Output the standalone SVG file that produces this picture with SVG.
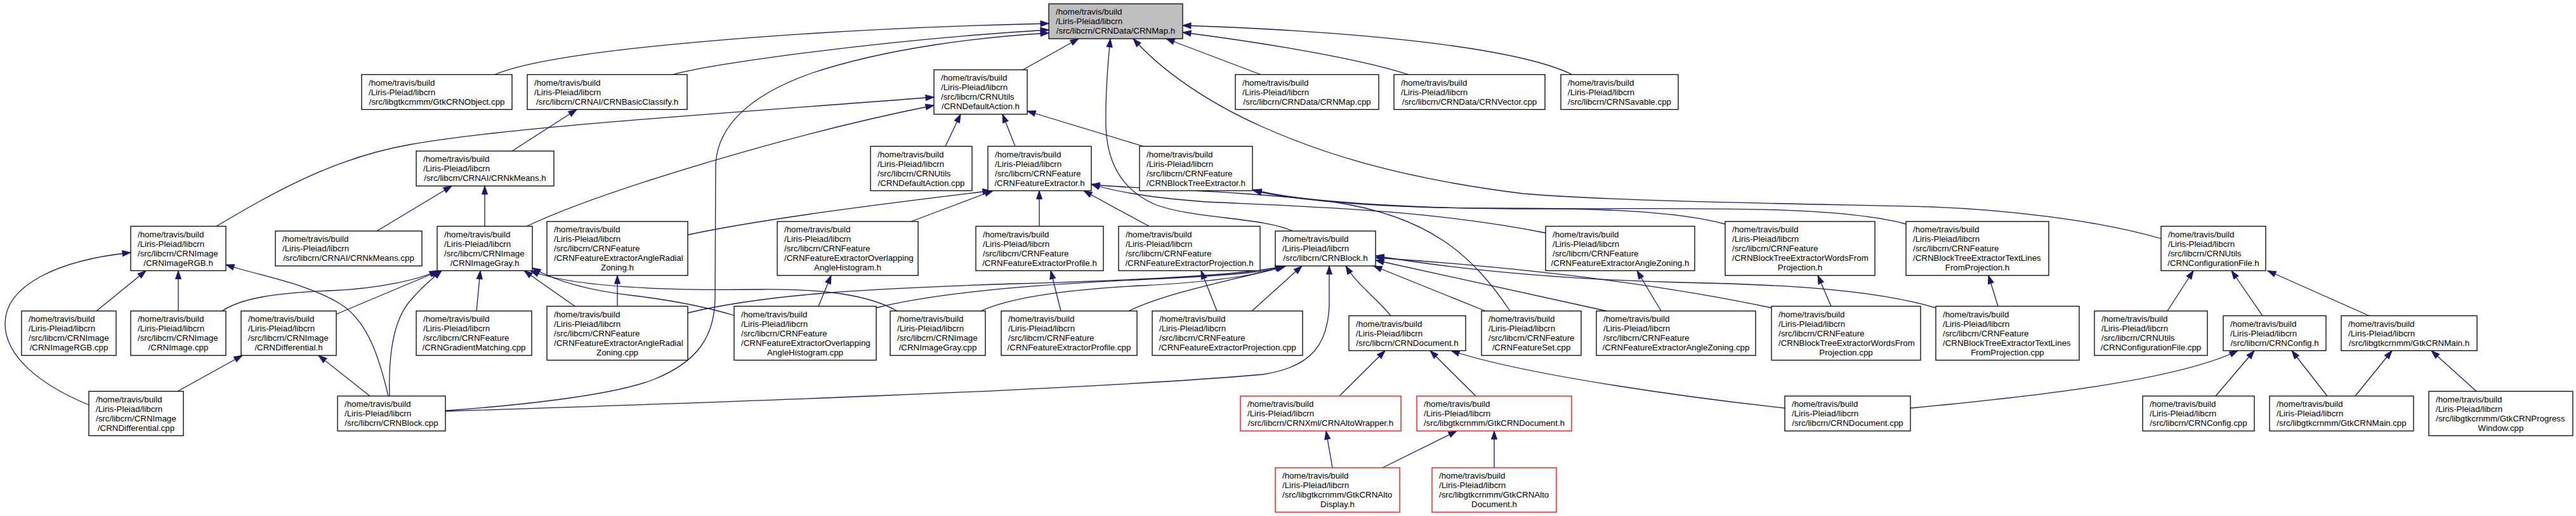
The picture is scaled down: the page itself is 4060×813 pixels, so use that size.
<svg xmlns="http://www.w3.org/2000/svg" width="4060" height="813" viewBox="0 0 4060 813">
<style>
.n rect{fill:#fff;stroke:#000;stroke-width:1.3}
.n.root rect{fill:#bfbfbf}
.n.red rect{stroke:#ff0000}
text{font-family:"Liberation Sans",Arial,Helvetica,sans-serif;font-size:13.33px;fill:#000}
.c{text-anchor:middle}
#edges path{fill:none;stroke:#191970;stroke-width:1.3;marker-end:url(#a)}
</style>
<defs>
<marker id="a" markerUnits="userSpaceOnUse" markerWidth="15" markerHeight="11" refX="13" refY="5" orient="auto" overflow="visible">
<path d="M0,0.5 L13,5 L0,9.5 z" fill="#191970" stroke="#191970" stroke-width="1"/>
</marker>
</defs>
<rect width="4060" height="813" fill="#fff"/>
<g id="edges">
<path d="M780,117.5 C880,75 1300,45 1653,37"/>
<path d="M1061,117.5 C1120,100 1400,62 1653,47"/>
<path d="M1612,110 L1700,61"/>
<path d="M2037,364 C1990,342 1880,345 1820,322 C1770,300 1745,260 1743,200 C1742,150 1746,100 1750,61"/>
<path d="M1987,117.5 L1838,61"/>
<path d="M2220,117.5 C2130,88 1950,62 1864,51"/>
<path d="M2478,117.5 C2380,70 2100,48 1864,40"/>
<path d="M3406,376 C3300,345 3150,330 3045,326 C2900,322 2550,318 2400,305 C2200,280 2080,240 1990,200 C1900,160 1830,110 1786,61"/>
<path d="M702,647 C800,640 960,625 1030,598 C1100,570 1126,530 1127,470 L1128,260 C1130,200 1180,150 1280,115 C1400,75 1550,58 1653,52"/>
<path d="M807,238 L909,172.5"/>
<path d="M341,356.5 C420,310 520,250 645,228 C800,200 1150,178 1472,153"/>
<path d="M830,356.5 C950,300 1250,210 1472,166"/>
<path d="M1490,230.5 L1514,180"/>
<path d="M1600,230.5 L1580,180"/>
<path d="M1802,230.5 L1619,175"/>
<path d="M594,364 L712,293"/>
<path d="M764,356.5 L764,293"/>
<path d="M1084,370 C1200,345 1400,320 1562,300.5"/>
<path d="M1436,349 L1565,300.5"/>
<path d="M1638,356.5 L1638,300.5"/>
<path d="M1811,356.5 L1708,300.5"/>
<path d="M2436,367 C2250,330 2050,325 1900,318 C1820,312 1760,303 1720,290"/>
<path d="M2380,490 C2320,400 2250,340 2100,318 C1950,300 1800,298 1720,291"/>
<path d="M2719,353 C2640,332 2520,328 2350,328 C2200,328 2050,318 1975,300"/>
<path d="M3004,353 C2900,325 2700,328 2450,329 C2250,330 2060,320 1975,299"/>
<path d="M152,490 L230,426.5"/>
<path d="M281,490 L281,426.5"/>
<path d="M140,638 C60,605 8,560 8,510 C8,450 90,410 206,398"/>
<path d="M612,624 C598,565 580,505 535,478 C480,445 410,435 356,417"/>
<path d="M350,490 C380,470 430,462 520,458 C600,455 660,440 690,426.5"/>
<path d="M530,495 L693,426.5"/>
<path d="M614,624 C612,560 620,500 650,470 C665,452 680,440 696,426.5"/>
<path d="M751,490 L757,426.5"/>
<path d="M906,482.5 L826,426.5"/>
<path d="M1414,490 C1370,465 1300,455 1200,456 C1050,458 900,452 836,426.5"/>
<path d="M1157,497 C1100,480 1050,472 1000,466 C920,457 870,440 839,422"/>
<path d="M973,482.5 L973,434"/>
<path d="M1290,482.5 L1310,434"/>
<path d="M1672,490 L1656,426.5"/>
<path d="M1918,490 L1893,426.5"/>
<path d="M2618,490 L2580,426.5"/>
<path d="M2886,482.5 L2865,434"/>
<path d="M3149,482.5 L3134,434"/>
<path d="M280,616.5 L382,560"/>
<path d="M583,624 L502,560"/>
<path d="M702,648 C1100,635 1700,615 1990,590 C2070,578 2093,540 2095,480 L2095,419"/>
<path d="M2192,497.5 C2170,470 2140,450 2121,419"/>
<path d="M2341,490 L2165,419"/>
<path d="M2532,490 L2168,410"/>
<path d="M2792,485 C2650,455 2450,425 2168,406"/>
<path d="M3051,485 C2950,455 2800,448 2650,445 C2450,440 2300,425 2168,403"/>
<path d="M1973,490 L2052,419"/>
<path d="M1779,490 C1840,460 1950,440 2027,419"/>
<path d="M1546,490 C1600,465 1700,455 1800,450 C1900,445 1980,435 2025,419"/>
<path d="M1381,485 C1500,455 1700,445 1850,438 C1950,433 2000,428 2024,419"/>
<path d="M1084,493 C1200,465 1350,455 1600,447 C1850,440 1980,430 2023,419"/>
<path d="M2111,624 L2183,552.5"/>
<path d="M2326,624 L2254,552.5"/>
<path d="M2813,643 C2650,625 2400,590 2287,552.5"/>
<path d="M2100,737 L2090,679"/>
<path d="M2179,737 L2296,679"/>
<path d="M2355,737 L2355,679"/>
<path d="M3416,490 L3457,426.5"/>
<path d="M3566,497.5 L3517,426.5"/>
<path d="M3734,497.5 L3574,426.5"/>
<path d="M3492,624 L3553,552.5"/>
<path d="M3668,624 L3612,552.5"/>
<path d="M3011,643 C3200,625 3430,600 3527,552.5"/>
<path d="M3712,624 L3770,552.5"/>
<path d="M3903,616.5 L3832,552.5"/>
</g>

<g id="n_CRNMap_h" class="n root"><rect x="1653" y="6" width="211" height="55"/>
<text x="1664" y="23">/home/travis/build</text><text x="1664" y="38">/Liris-Pleiad/libcrn</text><text class="c" x="1758.5" y="53">/src/libcrn/CRNData/CRNMap.h</text></g>

<g id="n_GtkCRNObject_cpp" class="n"><rect x="570" y="117.5" width="237" height="55"/>
<text x="581" y="134.5">/home/travis/build</text><text x="581" y="149.5">/Liris-Pleiad/libcrn</text><text class="c" x="688.5" y="164.5">/src/libgtkcrnmm/GtkCRNObject.cpp</text></g>
<g id="n_CRNBasicClassify_h" class="n"><rect x="831" y="117.5" width="252" height="55"/>
<text x="842" y="134.5">/home/travis/build</text><text x="842" y="149.5">/Liris-Pleiad/libcrn</text><text class="c" x="957" y="164.5">/src/libcrn/CRNAI/CRNBasicClassify.h</text></g>
<g id="n_CRNDefaultAction_h" class="n"><rect x="1472" y="110" width="147" height="70"/>
<text x="1483" y="127">/home/travis/build</text><text x="1483" y="142">/Liris-Pleiad/libcrn</text><text x="1483" y="157">/src/libcrn/CRNUtils</text><text class="c" x="1545.5" y="172">/CRNDefaultAction.h</text></g>
<g id="n_CRNMap_cpp" class="n"><rect x="1947" y="117.5" width="226" height="55"/>
<text x="1958" y="134.5">/home/travis/build</text><text x="1958" y="149.5">/Liris-Pleiad/libcrn</text><text class="c" x="2060" y="164.5">/src/libcrn/CRNData/CRNMap.cpp</text></g>
<g id="n_CRNVector_cpp" class="n"><rect x="2197" y="117.5" width="238" height="55"/>
<text x="2208" y="134.5">/home/travis/build</text><text x="2208" y="149.5">/Liris-Pleiad/libcrn</text><text class="c" x="2316" y="164.5">/src/libcrn/CRNData/CRNVector.cpp</text></g>
<g id="n_CRNSavable_cpp" class="n"><rect x="2460" y="117.5" width="185" height="55"/>
<text x="2471" y="134.5">/home/travis/build</text><text x="2471" y="149.5">/Liris-Pleiad/libcrn</text><text class="c" x="2552.5" y="164.5">/src/libcrn/CRNSavable.cpp</text></g>

<g id="n_CRNkMeans_h" class="n"><rect x="656" y="238" width="217" height="55"/>
<text x="667" y="255">/home/travis/build</text><text x="667" y="270">/Liris-Pleiad/libcrn</text><text class="c" x="764.5" y="285">/src/libcrn/CRNAI/CRNkMeans.h</text></g>
<g id="n_CRNDefaultAction_cpp" class="n"><rect x="1372" y="230.5" width="160" height="70"/>
<text x="1383" y="247.5">/home/travis/build</text><text x="1383" y="262.5">/Liris-Pleiad/libcrn</text><text x="1383" y="277.5">/src/libcrn/CRNUtils</text><text class="c" x="1452" y="292.5">/CRNDefaultAction.cpp</text></g>
<g id="n_CRNFeatureExtractor_h" class="n"><rect x="1557" y="230.5" width="163" height="70"/>
<text x="1568" y="247.5">/home/travis/build</text><text x="1568" y="262.5">/Liris-Pleiad/libcrn</text><text x="1568" y="277.5">/src/libcrn/CRNFeature</text><text class="c" x="1638.5" y="292.5">/CRNFeatureExtractor.h</text></g>
<g id="n_CRNBlockTreeExtractor_h" class="n"><rect x="1796" y="230.5" width="178" height="70"/>
<text x="1807" y="247.5">/home/travis/build</text><text x="1807" y="262.5">/Liris-Pleiad/libcrn</text><text x="1807" y="277.5">/src/libcrn/CRNFeature</text><text class="c" x="1885" y="292.5">/CRNBlockTreeExtractor.h</text></g>

<g id="n_CRNImageRGB_h" class="n"><rect x="206" y="356.5" width="150" height="70"/>
<text x="217" y="373.5">/home/travis/build</text><text x="217" y="388.5">/Liris-Pleiad/libcrn</text><text x="217" y="403.5">/src/libcrn/CRNImage</text><text class="c" x="281" y="418.5">/CRNImageRGB.h</text></g>
<g id="n_CRNkMeans_cpp" class="n"><rect x="434" y="364" width="231" height="55"/>
<text x="445" y="381">/home/travis/build</text><text x="445" y="396">/Liris-Pleiad/libcrn</text><text class="c" x="549.5" y="411">/src/libcrn/CRNAI/CRNkMeans.cpp</text></g>
<g id="n_CRNImageGray_h" class="n"><rect x="689" y="356.5" width="150" height="70"/>
<text x="700" y="373.5">/home/travis/build</text><text x="700" y="388.5">/Liris-Pleiad/libcrn</text><text x="700" y="403.5">/src/libcrn/CRNImage</text><text class="c" x="764" y="418.5">/CRNImageGray.h</text></g>
<g id="n_AngleRadialZoning_h" class="n"><rect x="862" y="349" width="222" height="85"/>
<text x="873" y="366">/home/travis/build</text><text x="873" y="381">/Liris-Pleiad/libcrn</text><text x="873" y="396">/src/libcrn/CRNFeature</text><text x="873" y="411">/CRNFeatureExtractorAngleRadial</text><text class="c" x="973" y="426">Zoning.h</text></g>
<g id="n_OverlappingAngleHistogram_h" class="n"><rect x="1225" y="349" width="222" height="85"/>
<text x="1236" y="366">/home/travis/build</text><text x="1236" y="381">/Liris-Pleiad/libcrn</text><text x="1236" y="396">/src/libcrn/CRNFeature</text><text x="1236" y="411">/CRNFeatureExtractorOverlapping</text><text class="c" x="1336" y="426">AngleHistogram.h</text></g>
<g id="n_Profile_h" class="n"><rect x="1538" y="356.5" width="201" height="70"/>
<text x="1549" y="373.5">/home/travis/build</text><text x="1549" y="388.5">/Liris-Pleiad/libcrn</text><text x="1549" y="403.5">/src/libcrn/CRNFeature</text><text class="c" x="1638.5" y="418.5">/CRNFeatureExtractorProfile.h</text></g>
<g id="n_Projection_h" class="n"><rect x="1763" y="356.5" width="223" height="70"/>
<text x="1774" y="373.5">/home/travis/build</text><text x="1774" y="388.5">/Liris-Pleiad/libcrn</text><text x="1774" y="403.5">/src/libcrn/CRNFeature</text><text class="c" x="1874.5" y="418.5">/CRNFeatureExtractorProjection.h</text></g>
<g id="n_CRNBlock_h" class="n"><rect x="2010" y="364" width="158" height="55"/>
<text x="2021" y="381">/home/travis/build</text><text x="2021" y="396">/Liris-Pleiad/libcrn</text><text class="c" x="2089" y="411">/src/libcrn/CRNBlock.h</text></g>
<g id="n_AngleZoning_h" class="n"><rect x="2436" y="356.5" width="235" height="70"/>
<text x="2447" y="373.5">/home/travis/build</text><text x="2447" y="388.5">/Liris-Pleiad/libcrn</text><text x="2447" y="403.5">/src/libcrn/CRNFeature</text><text class="c" x="2553.5" y="418.5">/CRNFeatureExtractorAngleZoning.h</text></g>
<g id="n_WordsFromProjection_h" class="n"><rect x="2719" y="349" width="236" height="85"/>
<text x="2730" y="366">/home/travis/build</text><text x="2730" y="381">/Liris-Pleiad/libcrn</text><text x="2730" y="396">/src/libcrn/CRNFeature</text><text x="2730" y="411">/CRNBlockTreeExtractorWordsFrom</text><text class="c" x="2837" y="426">Projection.h</text></g>
<g id="n_TextLinesFromProjection_h" class="n"><rect x="3004" y="349" width="225" height="85"/>
<text x="3015" y="366">/home/travis/build</text><text x="3015" y="381">/Liris-Pleiad/libcrn</text><text x="3015" y="396">/src/libcrn/CRNFeature</text><text x="3015" y="411">/CRNBlockTreeExtractorTextLines</text><text class="c" x="3116.5" y="426">FromProjection.h</text></g>
<g id="n_CRNConfigurationFile_h" class="n"><rect x="3406" y="356.5" width="165" height="70"/>
<text x="3417" y="373.5">/home/travis/build</text><text x="3417" y="388.5">/Liris-Pleiad/libcrn</text><text x="3417" y="403.5">/src/libcrn/CRNUtils</text><text class="c" x="3488.5" y="418.5">/CRNConfigurationFile.h</text></g>

<g id="n_CRNImageRGB_cpp" class="n"><rect x="34" y="490" width="149" height="70"/>
<text x="45" y="507">/home/travis/build</text><text x="45" y="522">/Liris-Pleiad/libcrn</text><text x="45" y="537">/src/libcrn/CRNImage</text><text class="c" x="108.5" y="552">/CRNImageRGB.cpp</text></g>
<g id="n_CRNImage_cpp" class="n"><rect x="206" y="490" width="150" height="70"/>
<text x="217" y="507">/home/travis/build</text><text x="217" y="522">/Liris-Pleiad/libcrn</text><text x="217" y="537">/src/libcrn/CRNImage</text><text class="c" x="281" y="552">/CRNImage.cpp</text></g>
<g id="n_CRNDifferential_h" class="n"><rect x="380" y="490" width="150" height="70"/>
<text x="391" y="507">/home/travis/build</text><text x="391" y="522">/Liris-Pleiad/libcrn</text><text x="391" y="537">/src/libcrn/CRNImage</text><text class="c" x="455" y="552">/CRNDifferential.h</text></g>
<g id="n_CRNGradientMatching_cpp" class="n"><rect x="656" y="490" width="182" height="70"/>
<text x="667" y="507">/home/travis/build</text><text x="667" y="522">/Liris-Pleiad/libcrn</text><text x="667" y="537">/src/libcrn/CRNFeature</text><text class="c" x="747" y="552">/CRNGradientMatching.cpp</text></g>
<g id="n_AngleRadialZoning_cpp" class="n"><rect x="862" y="482.5" width="222" height="85"/>
<text x="873" y="499.5">/home/travis/build</text><text x="873" y="514.5">/Liris-Pleiad/libcrn</text><text x="873" y="529.5">/src/libcrn/CRNFeature</text><text x="873" y="544.5">/CRNFeatureExtractorAngleRadial</text><text class="c" x="973" y="559.5">Zoning.cpp</text></g>
<g id="n_OverlappingAngleHistogram_cpp" class="n"><rect x="1157" y="482.5" width="224" height="85"/>
<text x="1168" y="499.5">/home/travis/build</text><text x="1168" y="514.5">/Liris-Pleiad/libcrn</text><text x="1168" y="529.5">/src/libcrn/CRNFeature</text><text x="1168" y="544.5">/CRNFeatureExtractorOverlapping</text><text class="c" x="1269" y="559.5">AngleHistogram.cpp</text></g>
<g id="n_CRNImageGray_cpp" class="n"><rect x="1403" y="490" width="150" height="70"/>
<text x="1414" y="507">/home/travis/build</text><text x="1414" y="522">/Liris-Pleiad/libcrn</text><text x="1414" y="537">/src/libcrn/CRNImage</text><text class="c" x="1478" y="552">/CRNImageGray.cpp</text></g>
<g id="n_Profile_cpp" class="n"><rect x="1578" y="490" width="214" height="70"/>
<text x="1589" y="507">/home/travis/build</text><text x="1589" y="522">/Liris-Pleiad/libcrn</text><text x="1589" y="537">/src/libcrn/CRNFeature</text><text class="c" x="1685" y="552">/CRNFeatureExtractorProfile.cpp</text></g>
<g id="n_Projection_cpp" class="n"><rect x="1816" y="490" width="237" height="70"/>
<text x="1827" y="507">/home/travis/build</text><text x="1827" y="522">/Liris-Pleiad/libcrn</text><text x="1827" y="537">/src/libcrn/CRNFeature</text><text class="c" x="1934.5" y="552">/CRNFeatureExtractorProjection.cpp</text></g>
<g id="n_CRNDocument_h" class="n"><rect x="2126" y="497.5" width="184" height="55"/>
<text x="2137" y="514.5">/home/travis/build</text><text x="2137" y="529.5">/Liris-Pleiad/libcrn</text><text class="c" x="2218" y="544.5">/src/libcrn/CRNDocument.h</text></g>
<g id="n_CRNFeatureSet_cpp" class="n"><rect x="2335" y="490" width="157" height="70"/>
<text x="2346" y="507">/home/travis/build</text><text x="2346" y="522">/Liris-Pleiad/libcrn</text><text x="2346" y="537">/src/libcrn/CRNFeature</text><text class="c" x="2413.5" y="552">/CRNFeatureSet.cpp</text></g>
<g id="n_AngleZoning_cpp" class="n"><rect x="2516" y="490" width="251" height="70"/>
<text x="2527" y="507">/home/travis/build</text><text x="2527" y="522">/Liris-Pleiad/libcrn</text><text x="2527" y="537">/src/libcrn/CRNFeature</text><text class="c" x="2641.5" y="552">/CRNFeatureExtractorAngleZoning.cpp</text></g>
<g id="n_WordsFromProjection_cpp" class="n"><rect x="2792" y="482.5" width="235" height="85"/>
<text x="2803" y="499.5">/home/travis/build</text><text x="2803" y="514.5">/Liris-Pleiad/libcrn</text><text x="2803" y="529.5">/src/libcrn/CRNFeature</text><text x="2803" y="544.5">/CRNBlockTreeExtractorWordsFrom</text><text class="c" x="2909.5" y="559.5">Projection.cpp</text></g>
<g id="n_TextLinesFromProjection_cpp" class="n"><rect x="3051" y="482.5" width="226" height="85"/>
<text x="3062" y="499.5">/home/travis/build</text><text x="3062" y="514.5">/Liris-Pleiad/libcrn</text><text x="3062" y="529.5">/src/libcrn/CRNFeature</text><text x="3062" y="544.5">/CRNBlockTreeExtractorTextLines</text><text class="c" x="3164" y="559.5">FromProjection.cpp</text></g>
<g id="n_CRNConfigurationFile_cpp" class="n"><rect x="3301" y="490" width="178" height="70"/>
<text x="3312" y="507">/home/travis/build</text><text x="3312" y="522">/Liris-Pleiad/libcrn</text><text x="3312" y="537">/src/libcrn/CRNUtils</text><text class="c" x="3390" y="552">/CRNConfigurationFile.cpp</text></g>
<g id="n_CRNConfig_h" class="n"><rect x="3504" y="497.5" width="162" height="55"/>
<text x="3515" y="514.5">/home/travis/build</text><text x="3515" y="529.5">/Liris-Pleiad/libcrn</text><text class="c" x="3585" y="544.5">/src/libcrn/CRNConfig.h</text></g>
<g id="n_GtkCRNMain_h" class="n"><rect x="3690" y="497.5" width="214" height="55"/>
<text x="3701" y="514.5">/home/travis/build</text><text x="3701" y="529.5">/Liris-Pleiad/libcrn</text><text class="c" x="3797" y="544.5">/src/libgtkcrnmm/GtkCRNMain.h</text></g>

<g id="n_CRNDifferential_cpp" class="n"><rect x="140" y="616.5" width="149" height="70"/>
<text x="151" y="633.5">/home/travis/build</text><text x="151" y="648.5">/Liris-Pleiad/libcrn</text><text x="151" y="663.5">/src/libcrn/CRNImage</text><text class="c" x="214.5" y="678.5">/CRNDifferential.cpp</text></g>
<g id="n_CRNBlock_cpp" class="n"><rect x="532" y="624" width="170" height="55"/>
<text x="543" y="641">/home/travis/build</text><text x="543" y="656">/Liris-Pleiad/libcrn</text><text class="c" x="617" y="671">/src/libcrn/CRNBlock.cpp</text></g>
<g id="n_CRNAltoWrapper_h" class="n red"><rect x="1955" y="624" width="253" height="55"/>
<text x="1966" y="641">/home/travis/build</text><text x="1966" y="656">/Liris-Pleiad/libcrn</text><text class="c" x="2081.5" y="671">/src/libcrn/CRNXml/CRNAltoWrapper.h</text></g>
<g id="n_GtkCRNDocument_h" class="n red"><rect x="2233" y="624" width="244" height="55"/>
<text x="2244" y="641">/home/travis/build</text><text x="2244" y="656">/Liris-Pleiad/libcrn</text><text class="c" x="2355" y="671">/src/libgtkcrnmm/GtkCRNDocument.h</text></g>
<g id="n_CRNDocument_cpp" class="n"><rect x="2813" y="624" width="198" height="55"/>
<text x="2824" y="641">/home/travis/build</text><text x="2824" y="656">/Liris-Pleiad/libcrn</text><text class="c" x="2912" y="671">/src/libcrn/CRNDocument.cpp</text></g>
<g id="n_CRNConfig_cpp" class="n"><rect x="3377" y="624" width="176" height="55"/>
<text x="3388" y="641">/home/travis/build</text><text x="3388" y="656">/Liris-Pleiad/libcrn</text><text class="c" x="3465" y="671">/src/libcrn/CRNConfig.cpp</text></g>
<g id="n_GtkCRNMain_cpp" class="n"><rect x="3577" y="624" width="227" height="55"/>
<text x="3588" y="641">/home/travis/build</text><text x="3588" y="656">/Liris-Pleiad/libcrn</text><text class="c" x="3690.5" y="671">/src/libgtkcrnmm/GtkCRNMain.cpp</text></g>
<g id="n_GtkCRNProgressWindow_cpp" class="n"><rect x="3828" y="616.5" width="227" height="70"/>
<text x="3839" y="633.5">/home/travis/build</text><text x="3839" y="648.5">/Liris-Pleiad/libcrn</text><text x="3839" y="663.5">/src/libgtkcrnmm/GtkCRNProgress</text><text class="c" x="3941.5" y="678.5">Window.cpp</text></g>

<g id="n_GtkCRNAltoDisplay_h" class="n red"><rect x="2010" y="737" width="196" height="70"/>
<text x="2021" y="754">/home/travis/build</text><text x="2021" y="769">/Liris-Pleiad/libcrn</text><text x="2021" y="784">/src/libgtkcrnmm/GtkCRNAlto</text><text class="c" x="2108" y="799">Display.h</text></g>
<g id="n_GtkCRNAltoDocument_h" class="n red"><rect x="2257" y="737" width="196" height="70"/>
<text x="2268" y="754">/home/travis/build</text><text x="2268" y="769">/Liris-Pleiad/libcrn</text><text x="2268" y="784">/src/libgtkcrnmm/GtkCRNAlto</text><text class="c" x="2355" y="799">Document.h</text></g>
</svg>
